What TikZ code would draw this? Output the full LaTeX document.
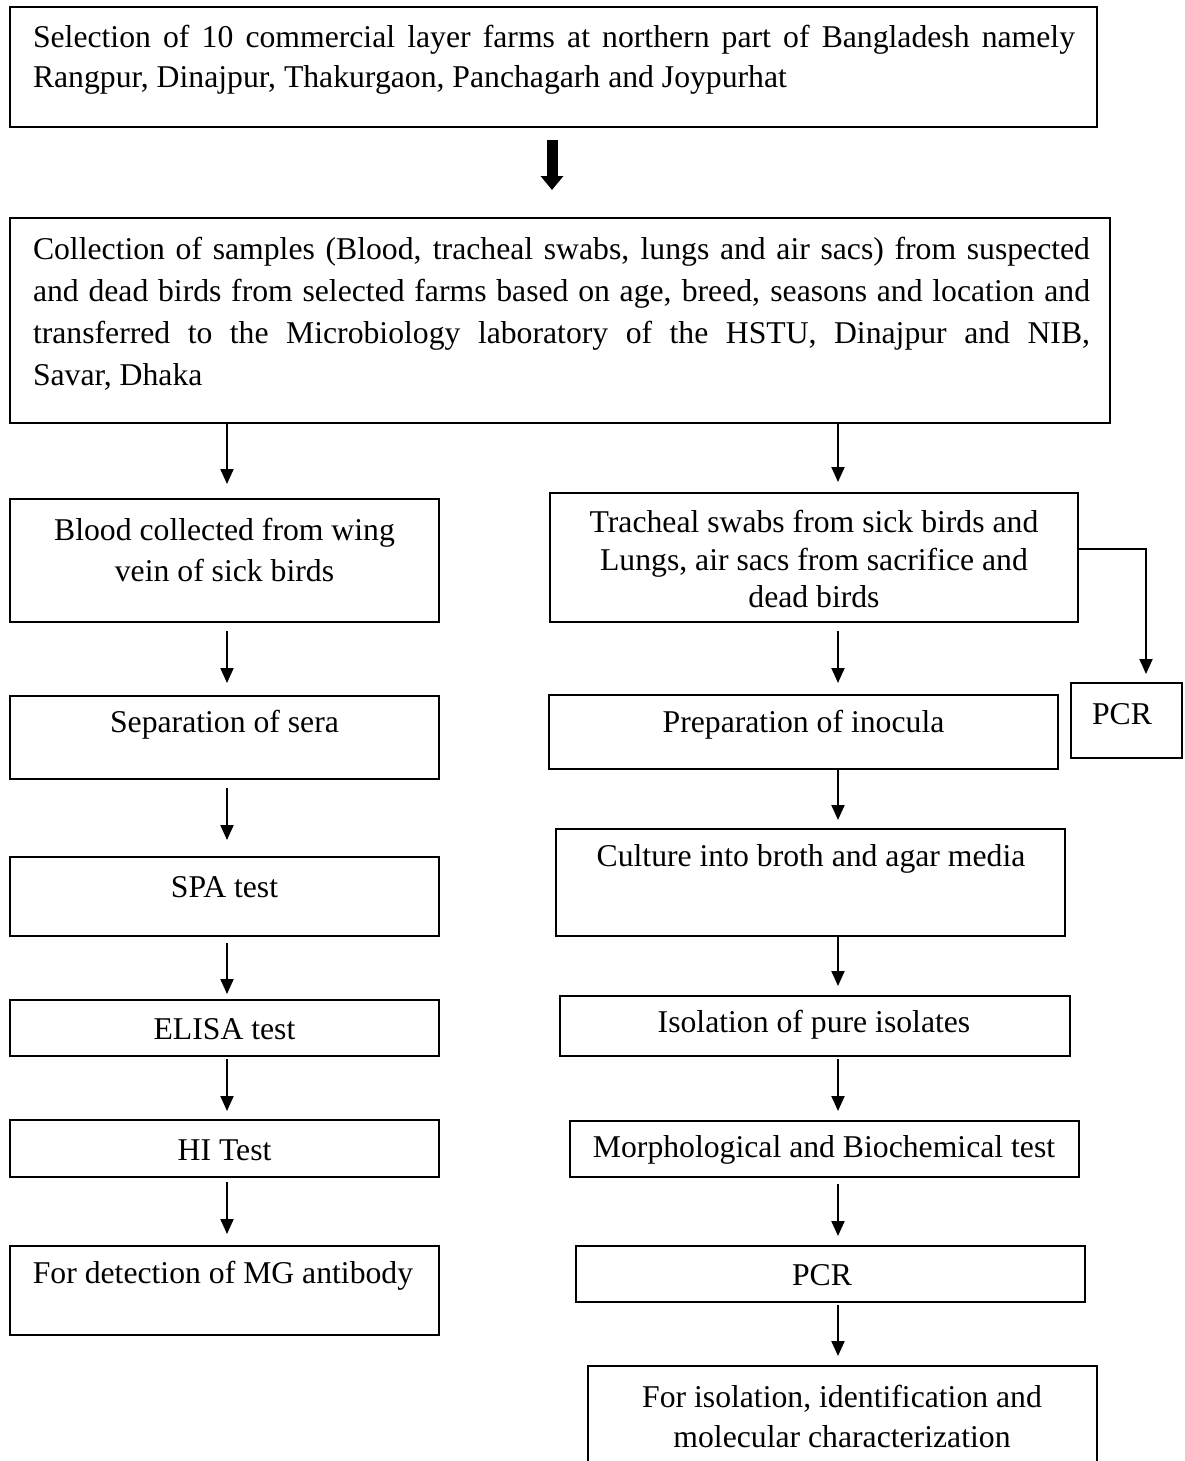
\documentclass[tikz,border=0pt]{standalone}
\usepackage{fontspec}
\setmainfont{Liberation Serif}
\usetikzlibrary{arrows.meta,fit}
\begin{document}
\begin{tikzpicture}[x=0.5pt,y=-0.5pt,
  box/.style={draw, line width=1pt, inner sep=0pt},
  txt/.style={inner sep=0pt, align=center, font=\fontsize{15.85pt}{20pt}\selectfont},
  arr/.style={line width=1pt, -{Triangle[length=7.5pt,width=6.5pt]}},
  bigarr/.style={line width=5.5pt, -{Triangle[length=7pt,width=11pt]}}]
\useasboundingbox (0,0) rectangle (1184,1461);
\clip (0,0) rectangle (1184,1461);
\coordinate (lc) at (227,0);
\coordinate (rc) at (838,0);
\coordinate (pc) at (1146,0);
% boxes
\node[box, fit={(10,7) (1097,127)}] (top) {};
\node[box, fit={(10,218) (1110,423)}] (coll) {};
\node[box, fit={(10,499) (439,622)}] (blood) {};
\node[box, fit={(550,493) (1078,622)}] (trach) {};
\node[box, fit={(1071,683) (1182,758)}] (pcra) {};
\node[box, fit={(10,696) (439,779)}] (sera) {};
\node[box, fit={(549,695) (1058,769)}] (prep) {};
\node[box, fit={(10,857) (439,936)}] (spa) {};
\node[box, fit={(556,829) (1065,936)}] (cult) {};
\node[box, fit={(10,1000) (439,1056)}] (elisa) {};
\node[box, fit={(560,996) (1070,1056)}] (iso) {};
\node[box, fit={(10,1120) (439,1177)}] (hi) {};
\node[box, fit={(570,1121) (1079,1177)}] (morph) {};
\node[box, fit={(10,1246) (439,1335)}] (mg) {};
\node[box, fit={(576,1246) (1085,1302)}] (pcrb) {};
\node[box, fit={(588,1366) (1097,1480)}] (final) {};
% texts
\node[txt, text width=521pt, align=justify] (ttop) at (554,60)
  {\noindent Selection of 10 commercial layer farms at northern part of Bangladesh namely\linebreak Rangpur, Dinajpur, Thakurgaon, Panchagarh and Joypurhat};
\node[txt, text width=528.5pt, align=justify, font=\fontsize{15.85pt}{21pt}\selectfont] (tcoll) at (561.5,314)
  {\noindent Collection of samples (Blood, tracheal swabs, lungs and air sacs) from suspected\linebreak and dead birds from selected farms based on age, breed, seasons and location and\linebreak transferred to the Microbiology laboratory of the HSTU, Dinajpur and NIB,\linebreak Savar, Dhaka};
\node[txt, font=\fontsize{15.85pt}{20.5pt}\selectfont] (tblood) at (224.5,550) {Blood collected from wing\\vein of sick birds};
\node[txt, font=\fontsize{15.85pt}{18.75pt}\selectfont] (ttrach) at (814,559) {Tracheal swabs from sick birds and\\Lungs, air sacs from sacrifice and\\dead birds};
\node[txt] (tpcra) at (1122,714) {PCR};
\node[txt] (tsera) at (224.5,725) {Separation of sera};
\node[txt] (tprep) at (803.5,725) {Preparation of inocula};
\node[txt] (tspa) at (224.5,887) {SPA test};
\node[txt] (tcult) at (811,859) {Culture into broth and agar media};
\node[txt] (telisa) at (224.5,1029) {ELISA test};
\node[txt] (tiso) at (814,1025) {Isolation of pure isolates};
\node[txt] (thi) at (224.5,1150) {HI Test};
\node[txt] (tmorph) at (824,1150) {Morphological and Biochemical test};
\node[txt] (tmg) at (223,1276) {For detection of MG antibody};
\node[txt] (tpcrb) at (822,1275) {PCR};
\node[txt] (tfinal) at (842,1416.5) {For isolation, identification and\\molecular characterization};
% connectors
\draw[bigarr, shorten <=6pt, shorten >=13.5pt] (top.south -| 552,0) -- (coll.north -| 552,0);
\draw[arr, shorten >=7pt] (coll.south -| lc) -- (blood.north -| lc);
\draw[arr, shorten >=5pt] (coll.south -| rc) -- (trach.north -| rc);
\draw[arr, shorten <=4pt, shorten >=6pt] (blood.south -| lc) -- (sera.north -| lc);
\draw[arr, shorten <=4pt, shorten >=8pt] (sera.south -| lc) -- (spa.north -| lc);
\draw[arr, shorten <=3pt, shorten >=2.5pt] (spa.south -| lc) -- (elisa.north -| lc);
\draw[arr, shorten <=1pt, shorten >=4pt] (elisa.south -| lc) -- (hi.north -| lc);
\draw[arr, shorten <=2pt, shorten >=5.5pt] (hi.south -| lc) -- (mg.north -| lc);
\draw[arr, shorten <=4pt, shorten >=5.5pt] (trach.south -| rc) -- (prep.north -| rc);
\draw[arr, shorten >=4pt] (prep.south -| rc) -- (cult.north -| rc);
\draw[arr, shorten >=4.5pt] (cult.south -| rc) -- (iso.north -| rc);
\draw[arr, shorten <=1pt, shorten >=4.5pt] (iso.south -| rc) -- (morph.north -| rc);
\draw[arr, shorten <=3pt, shorten >=4.5pt] (morph.south -| rc) -- (pcrb.north -| rc);
\draw[arr, shorten <=1pt, shorten >=4.5pt] (pcrb.south -| rc) -- (final.north -| rc);
\draw[arr, shorten >=4pt] ([yshift=4.25pt]trach.east) -| (pcra.north -| pc);
\end{tikzpicture}
\end{document}
